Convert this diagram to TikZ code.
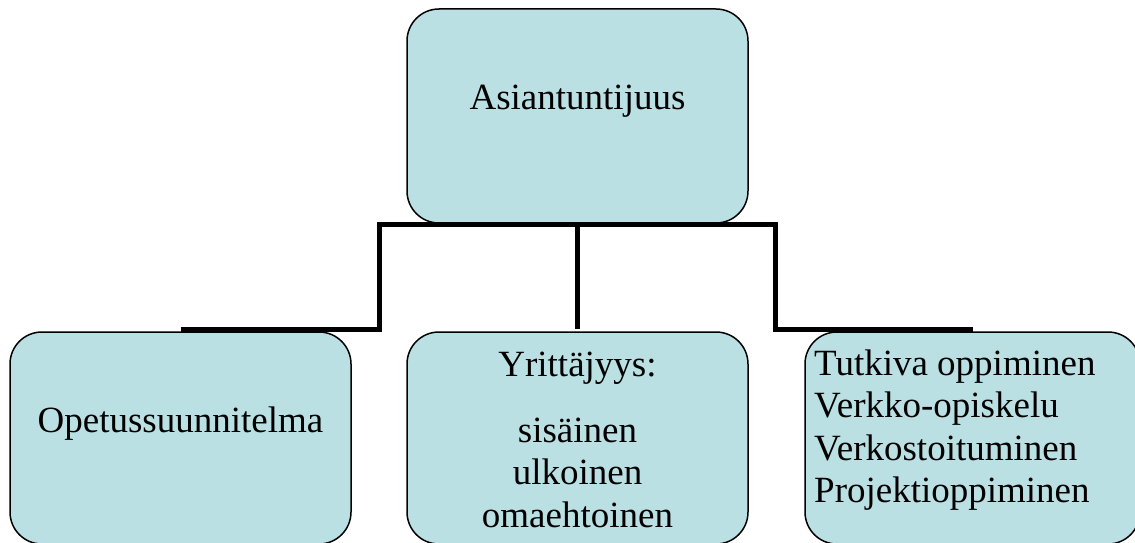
\documentclass[tikz,border=0pt]{standalone}
\usepackage{fontspec}
\setmainfont{Liberation Serif}
\usepackage{tikz}
\definecolor{boxfill}{HTML}{BBE0E3}
\tikzstyle{boxstyle}=[draw, line width=1.5pt, fill=boxfill, rectangle, rounded corners=32pt, outer sep=0pt, minimum width=341pt, minimum height=212pt]
\tikzstyle{edgestyle}=[draw, line width=5pt, line join=miter]
\tikzstyle{textstyle}=[inner sep=0pt, font=\fontsize{37}{42.5}\selectfont]
\newcommand{\boxlines}[2]{\begin{tabular}[t]{@{}#1@{}}#2\end{tabular}}

\begin{document}
\begin{tikzpicture}[x=1pt, y=-1pt]
\clip (0,0) rectangle (1135,543);
\node [boxstyle, minimum height=214pt] (asiant) at (577.5,116) {};
\node [boxstyle] (opetus) at (180.5,438) {};
\node [boxstyle] (yritt) at (577.5,438) {};
\node [boxstyle, minimum width=335pt] (tutkiva) at (972.5,438) {};
\node [textstyle, anchor=base] (asiantText) at (577.5,109) {Asiantuntijuus};
\node [textstyle, anchor=base] (opetusText) at (180.5,432) {Opetussuunnitelma};
\node [textstyle, anchor=base] (yrittText) at (577.5,376) {\boxlines{c}{Yrittäjyys:\\[23.5pt] sisäinen\\ ulkoinen\\ omaehtoinen}};
\node [textstyle, anchor=base west] (tutkivaText) at (814,375) {\boxlines{l}{Tutkiva oppiminen\\ Verkko-opiskelu\\ Verkostoituminen\\ Projektioppiminen}};
\draw [edgestyle] ([yshift=3pt]opetus.north) -| ([xshift=-198pt, yshift=-1pt]asiant.south) -- ([xshift=198pt, yshift=-1pt]asiant.south) |- ([yshift=3pt]tutkiva.north);
\draw [edgestyle] ([yshift=-1pt]asiant.south) -- ([yshift=3pt]yritt.north);
\end{tikzpicture}
\end{document}
